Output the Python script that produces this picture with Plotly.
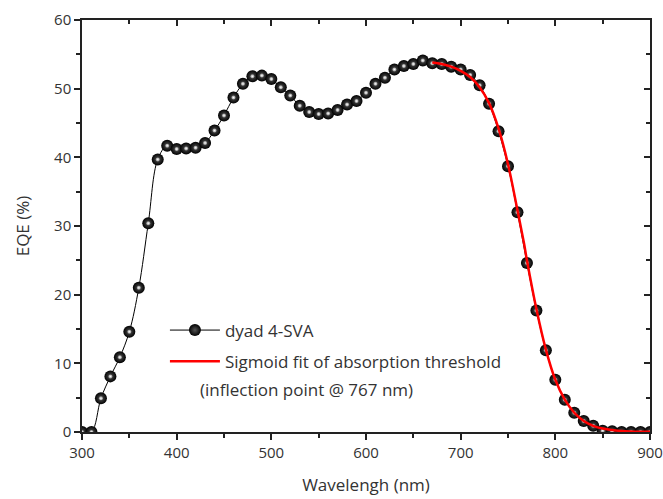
import plotly.graph_objects as go

# EQE data (nm, %)
wavelength = [300, 310, 320, 330, 340, 350, 360, 370, 380, 390,
              400, 410, 420, 430, 440, 450, 460, 470, 480, 490,
              500, 510, 520, 530, 540, 550, 560, 570, 580, 590,
              600, 610, 620, 630, 640, 650, 660, 670, 680, 690,
              700, 710, 720, 730, 740, 750, 760, 770, 780, 790,
              800, 810, 820, 830, 840, 850, 860, 870, 880, 890, 900]
eqe = [0.0, 0.0, 4.9, 8.1, 10.9, 14.6, 21.0, 30.4, 39.7, 41.7,
       41.2, 41.3, 41.4, 42.1, 43.9, 46.1, 48.7, 50.7, 51.8, 51.9,
       51.4, 50.2, 49.0, 47.5, 46.6, 46.3, 46.4, 46.9, 47.7, 48.2,
       49.4, 50.7, 51.6, 52.8, 53.3, 53.6, 54.1, 53.7, 53.6, 53.2,
       52.8, 52.0, 50.5, 47.8, 43.8, 38.7, 32.0, 24.6, 17.7, 11.9,
       7.6, 4.7, 2.8, 1.6, 0.9, 0.2, 0.1, 0.0, 0.0, 0.0, 0.0]

# sigmoid fit curve
fit_x = [670, 680, 690, 700, 710, 720, 730, 740, 750, 760, 767,
         770, 780, 790, 800, 810, 820, 830, 840, 850, 860, 870, 880, 890, 900]
fit_y = [53.8, 53.6, 53.2, 52.6, 51.7, 50.2, 47.9, 44.2, 39.0, 32.3, 27.4,
         25.0, 17.9, 12.0, 7.6, 4.7, 2.8, 1.6, 0.9, 0.5, 0.3, 0.15, 0.08, 0.04, 0.02]

font = "Open Sans, Noto Sans, sans-serif"

fig = go.Figure()
# radial gradient: marker.color is the rim, gradient.color the centre
fig.add_trace(go.Scatter(
    x=wavelength, y=eqe, name="dyad 4-SVA", mode="lines+markers",
    line=dict(color="black", width=1, shape="spline"),
    marker=dict(size=12, color="black", line=dict(width=0),
                gradient=dict(type="radial", color="#555555")),
    legendgroup="a"))
# small highlight on each bead
fig.add_trace(go.Scatter(
    x=wavelength, y=eqe, mode="markers", showlegend=False, hoverinfo="skip",
    marker=dict(size=4, color="#909090", line=dict(width=0),
                gradient=dict(type="radial", color="#ffffff"))))
fig.add_trace(go.Scatter(
    x=fit_x, y=fit_y, mode="lines",
    name="Sigmoid fit of absorption threshold",
    line=dict(color="#ff0000", width=2.5, shape="spline"),
    legendgroup="b"))

axis_common = dict(showline=True, linecolor="#222", linewidth=1.5,
                   showgrid=False, zeroline=False, ticklen=6, tickwidth=1.5,
                   tickcolor="#222", automargin=False)

fig.update_layout(
    width=663, height=499,
    margin=dict(l=82, r=13, t=20, b=67),
    paper_bgcolor="white", plot_bgcolor="white",
    font=dict(family=font, size=15, color="#333"),
    xaxis=dict(range=[300, 900], dtick=100, ticks="outside",
               minor=dict(dtick=50, ticks="outside", ticklen=4, tickcolor="#222", tickwidth=1.5),
               title=dict(text="Wavelengh (nm)", font=dict(size=17), standoff=18),
               **axis_common),
    yaxis=dict(range=[0, 60], dtick=10, ticks="outside",
               minor=dict(dtick=5, ticks="outside", ticklen=4, tickcolor="#222", tickwidth=1.5),
               title=dict(text="EQE (%)", font=dict(size=17), standoff=20),
               **axis_common),
    xaxis2=dict(range=[300, 900], dtick=100, ticks="inside", overlaying="x",
                side="top", showticklabels=False,
                minor=dict(dtick=50, ticks="inside", ticklen=4, tickcolor="#222", tickwidth=1.5),
                **axis_common),
    yaxis2=dict(range=[0, 60], dtick=10, ticks="inside", overlaying="y",
                side="right", showticklabels=False,
                minor=dict(dtick=5, ticks="inside", ticklen=4, tickcolor="#222", tickwidth=1.5),
                **axis_common),
    legend=dict(x=0.146, y=0.29, xanchor="left", yanchor="top",
                bgcolor="rgba(0,0,0,0)", font=dict(size=17, color="#333"),
                itemwidth=50, traceorder="grouped", tracegroupgap=6),
    annotations=[dict(text="(inflection point @ 767 nm)", x=0.205, y=0.104,
                      xref="paper", yref="paper", xanchor="left", yanchor="middle",
                      showarrow=False, font=dict(size=17, color="#333"))],
)

# invisible trace to activate the mirrored axes
fig.add_trace(go.Scatter(x=[300], y=[0], xaxis="x2", yaxis="y2", mode="markers",
                         marker=dict(opacity=0), showlegend=False, hoverinfo="skip"))

fig.write_html("out.html", config={"displayModeBar": False},
               post_script="document.body.style.margin='0';")
